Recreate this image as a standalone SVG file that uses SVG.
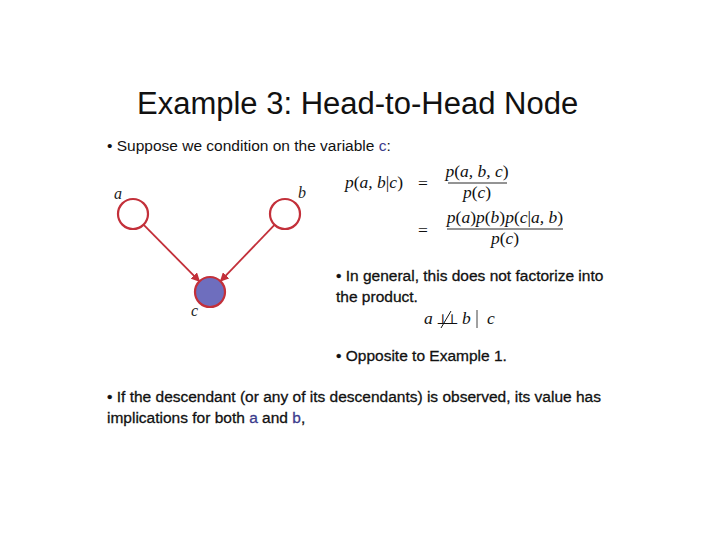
<svg xmlns="http://www.w3.org/2000/svg" width="720" height="540" viewBox="0 0 720 540">
<style>
.title{font-family:"Liberation Sans",Arial,sans-serif;font-size:31px;fill:#111}
.txt{font-family:"Liberation Sans",Arial,sans-serif;font-size:15.5px;fill:#111}
.bd{stroke:#111;stroke-width:0.3}
.hl{fill:#3b3b8c}
.bd .hl{stroke:#3b3b8c}
.m{font-family:"Liberation Serif","DejaVu Serif",serif;font-size:17.5px;font-style:italic;fill:#111}
.mu{font-style:normal}
.nl{font-family:"Liberation Serif","DejaVu Serif",serif;font-size:16px;font-style:italic;fill:#222}
.node{stroke:#c3303a;stroke-width:2.2;fill:#fff}
.obs{fill:#6e6ebe}
.edge{stroke:#c3303a;stroke-width:1.8;fill:none;marker-end:url(#ah)}
.bar{stroke:#111;stroke-width:0.9}
</style>
<defs>
<marker id="ah" viewBox="0 0 10 10" refX="9" refY="5" markerWidth="5" markerHeight="5" orient="auto" markerUnits="strokeWidth">
<path d="M0,0 L10,5 L0,10 z" fill="#c3303a"/>
</marker>
</defs>
<rect width="720" height="540" fill="#fff"/>
<text class="title" x="137" y="114">Example 3: Head-to-Head Node</text>
<text class="txt" x="107" y="151">• Suppose we condition on the variable <tspan class="hl">c</tspan>:</text>

<g id="edges">
<line class="edge" x1="143.5" y1="224.7" x2="199.5" y2="281.3"/>
<line class="edge" x1="274.5" y1="224.8" x2="220.5" y2="281.2"/>
</g>
<g id="node-a">
<circle class="node" cx="133" cy="214" r="15"/>
<text class="nl" x="114" y="199">a</text>
</g>
<g id="node-b">
<circle class="node" cx="285" cy="214" r="15"/>
<text class="nl" x="298" y="198">b</text>
</g>
<g id="node-c">
<circle class="node obs" cx="210" cy="292" r="15"/>
<text class="nl" x="191" y="316">c</text>
</g>

<g id="equations">
<text class="m" x="345" y="188">p<tspan class="mu">(</tspan>a, b<tspan class="mu">|</tspan>c<tspan class="mu">)</tspan></text>
<text class="m mu" x="423" y="189" text-anchor="middle">=</text>
<text class="m" x="477" y="177" text-anchor="middle">p<tspan class="mu">(</tspan>a, b, c<tspan class="mu">)</tspan></text>
<line class="bar" x1="448" y1="183" x2="507" y2="183"/>
<text class="m" x="477" y="198" text-anchor="middle">p<tspan class="mu">(</tspan>c<tspan class="mu">)</tspan></text>
<text class="m mu" x="423" y="236" text-anchor="middle">=</text>
<text class="m" x="505" y="223" text-anchor="middle">p<tspan class="mu">(</tspan>a<tspan class="mu">)</tspan>p<tspan class="mu">(</tspan>b<tspan class="mu">)</tspan>p<tspan class="mu">(</tspan>c<tspan class="mu">|</tspan>a, b<tspan class="mu">)</tspan></text>
<line class="bar" x1="447" y1="229" x2="563" y2="229"/>
<text class="m" x="505" y="244" text-anchor="middle">p<tspan class="mu">(</tspan>c<tspan class="mu">)</tspan></text>
</g>

<text class="txt bd" x="336" y="281">• In general, this does not factorize into</text>
<text class="txt bd" x="336" y="302">the product.</text>
<g id="indep">
<text class="m" x="424" y="324">a</text>
<text class="m mu" x="436" y="324" style="font-size:14px" letter-spacing="-4">⊥⊥</text>
<line x1="441" y1="328" x2="451" y2="311" stroke="#111" stroke-width="1"/>
<text class="m" x="462" y="324">b</text>
<line x1="477" y1="310" x2="477" y2="328" stroke="#111" stroke-width="0.8"/>
<text class="m" x="487" y="324">c</text>
</g>
<text class="txt bd" x="336" y="361">• Opposite to Example 1.</text>
<text class="txt bd" x="107" y="402">• If the descendant (or any of its descendants) is observed, its value has</text>
<text class="txt bd" x="107" y="423">implications for both <tspan class="hl">a</tspan> and <tspan class="hl">b</tspan>,</text>
</svg>
